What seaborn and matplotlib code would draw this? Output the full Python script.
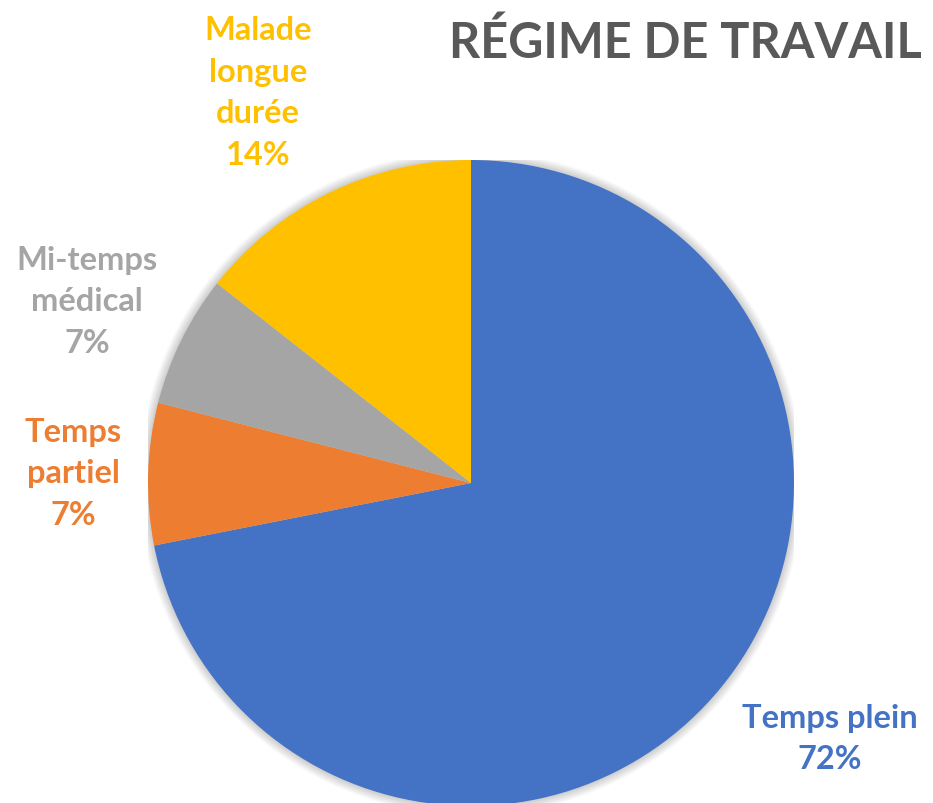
import matplotlib
matplotlib.use("Agg")
import matplotlib.pyplot as plt
import seaborn as sns
from matplotlib.patches import Circle

sns.set_theme(style="white")
plt.rcParams['font.family'] = ['Lato', 'DejaVu Sans']

# ── Data ──────────────────────────────────────────────────────────────────────
categories = ["Temps plein", "Temps partiel", "Mi-temps médical", "Malade longue durée"]
shares = [71.9, 7.1, 6.6, 14.4]
colors = ["#4472C4", "#ED7D31", "#A5A5A5", "#FFC000"]
label_texts = ["Temps plein\n72%", "Temps\npartiel\n7%", "Mi-temps\nmédical\n7%",
               "Malade\nlongue\ndurée\n14%"]
# label centres in pixels (x, y from top)
label_pos = [(830, 739), (73, 474), (87, 302), (258, 93)]

W, H = 933, 804
fig = plt.figure(figsize=(W / 100, H / 100), dpi=100)

cx, cy, r = 471, 484, 323
ax = fig.add_axes([(cx - r) / W, (H - cy - r) / H, 2 * r / W, 2 * r / H])

# soft shadow around the pie
for k in range(8):
    ax.add_patch(Circle((0, 0), 1.0 + 0.0035 * (k + 1), color="black",
                        alpha=0.025, lw=0, zorder=0))

ax.pie(shares, colors=colors, startangle=90, counterclock=False,
       wedgeprops=dict(linewidth=0), radius=1.0)
ax.set_xlim(-1, 1)
ax.set_ylim(-1, 1)
ax.axis("off")

for txt, (px, py), col in zip(label_texts, label_pos, colors):
    fig.text(px / W, 1 - py / H, txt, ha="center", va="center", color=col,
             fontsize=23.5, fontweight="bold", linespacing=1.53)

fig.text(922 / W, 1 - 43 / H, "RÉGIME DE TRAVAIL", ha="right", va="center",
         color="#595959", fontsize=35, fontweight="bold")

fig.savefig("out.png", dpi=100)
